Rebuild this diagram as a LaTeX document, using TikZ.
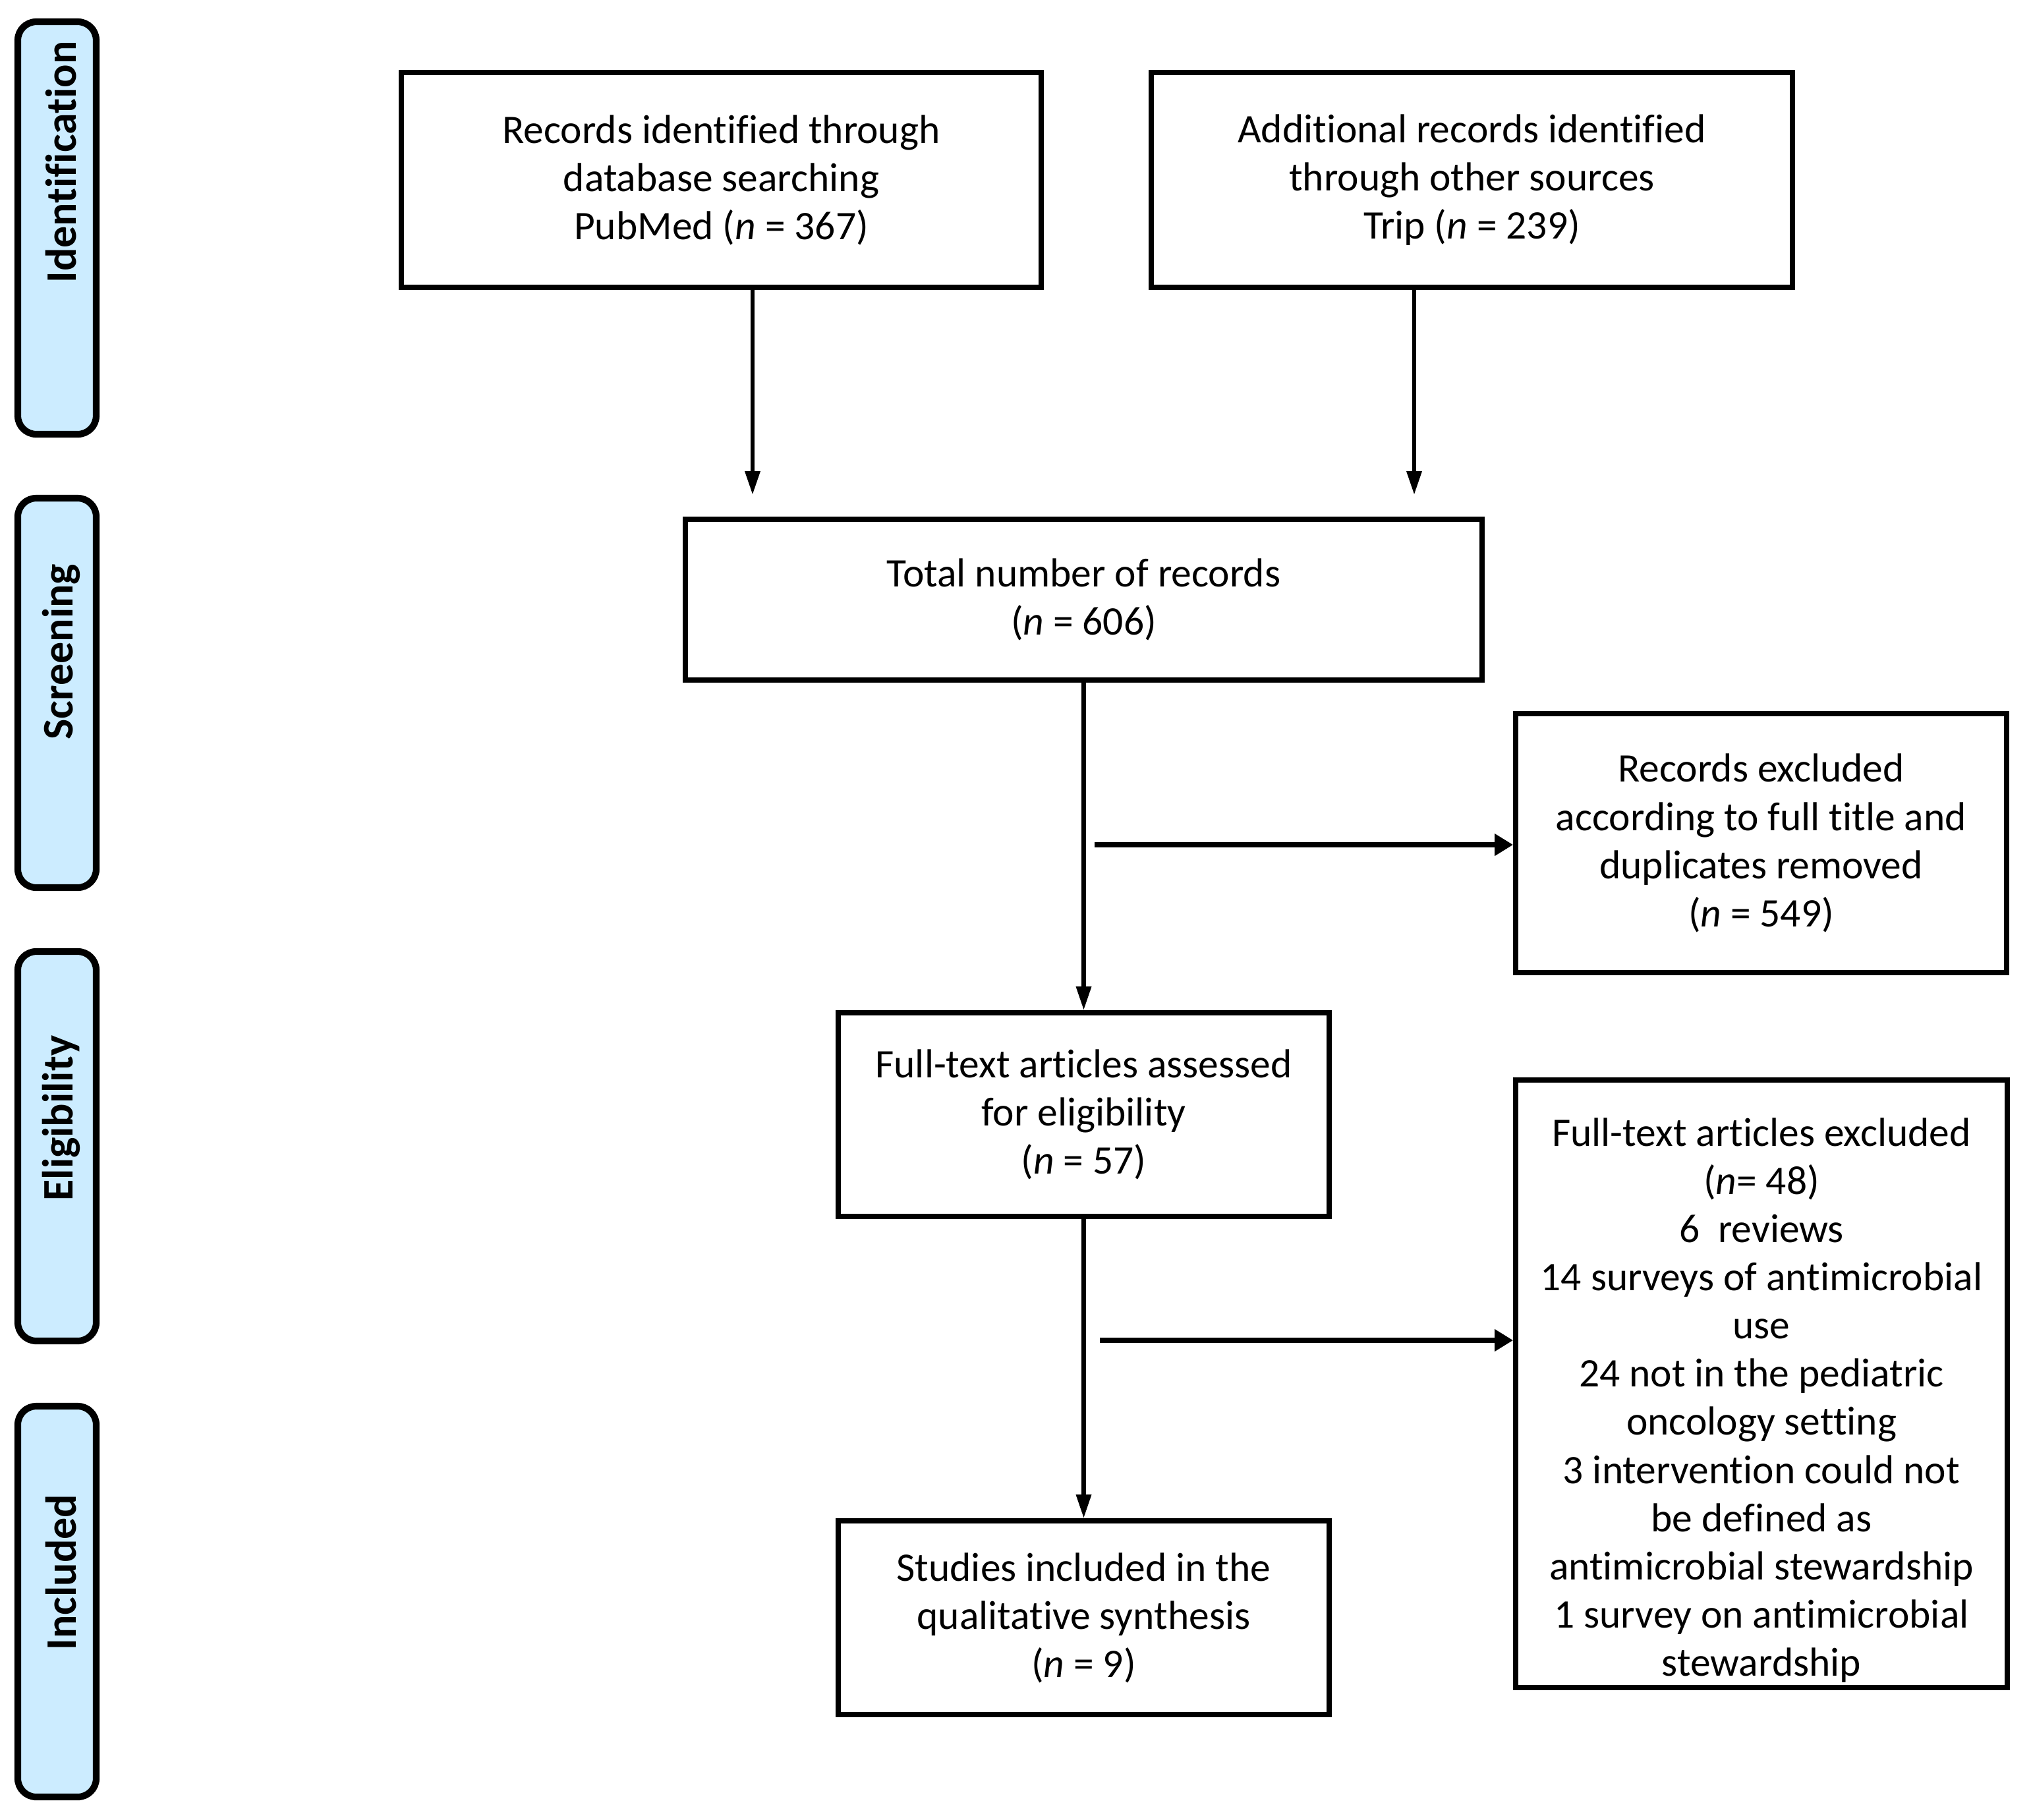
\documentclass[tikz,border=0pt]{standalone}
\usepackage{fontspec}
\setmainfont{Carlito}[Ligatures=NoCommon]
\usetikzlibrary{arrows.meta}
\definecolor{stagebg}{HTML}{CCECFF}

\begin{document}
\begin{tikzpicture}[
  box/.style={draw=black, line width=2.2pt, fill=white, align=center, inner sep=0pt, font=\fontsize{17.5}{20.8}\selectfont},
  boxtxt/.style={align=center, inner sep=0pt, font=\fontsize{17.5}{20.8}\selectfont},
  stagebar/.style={draw=black, line width=2.9pt, fill=stagebg, rounded corners=8pt, minimum width=1.19cm},
  stagelbl/.style={rotate=90, font=\fontsize{18.8}{22}\selectfont\bfseries, inner sep=0pt},
  arr/.style={-{Triangle[length=0.36cm, width=0.22cm]}, line width=1.8pt},
  harr/.style={-{Triangle[length=0.28cm, width=0.32cm]}, line width=2.4pt},
]
\useasboundingbox (0,0) rectangle (30.82,-27.61);

% ── Stage bars ──
\node[stagebar, minimum height=6.26cm] (idbar) at (0.865, -3.46) {};
\node[stagebar, minimum height=5.91cm] (scrbar) at (0.865, -10.515) {};
\node[stagebar, minimum height=5.91cm] (eligbar) at (0.865, -17.395) {};
\node[stagebar, minimum height=5.93cm] (inclbar) at (0.865, -24.305) {};

\node[stagelbl] (idlbl) at (0.93, -2.46) {Identification};
\node[stagelbl] (scrlbl) at (0.93, -9.89) {Screening};
\node[stagelbl] (eliglbl) at (0.93, -16.97) {Eligibility};
\node[stagelbl] (incllbl) at (0.93, -23.86) {Included};

% ── Top row ──
\node[box, minimum width=9.71cm, minimum height=3.26cm] (pub) at (10.945, -2.73)
  {Records identified through\\database searching\\PubMed (\textit{n} = 367)};

\node[box, minimum width=9.73cm, minimum height=3.26cm] (trip) at (22.335, -2.73)
  {Additional records identified\\through other sources\\Trip (\textit{n} = 239)};

% ── Main column ──
\node[box, minimum width=12.09cm, minimum height=2.44cm] (total) at (16.445, -9.10)
  {Total number of records\\(\textit{n} = 606)};

\node[box, minimum width=7.45cm, minimum height=3.09cm] (assessed) at (16.445, -16.915)
  {Full-text articles assessed\\for eligibility\\(\textit{n} = 57)};

\node[box, minimum width=7.45cm, minimum height=2.94cm] (studies) at (16.445, -24.55)
  {Studies included in the\\qualitative synthesis\\(\textit{n} = 9)};

% ── Exclusion boxes ──
\node[box, minimum width=7.45cm, minimum height=3.93cm] (excl1) at (26.725, -12.795)
  {Records excluded\\according to full title and\\duplicates removed\\(\textit{n} = 549)};

\node[box, minimum width=7.46cm, minimum height=9.22cm] (excl2) at (26.73, -21.0) {};
\node[boxtxt] (excl2txt) at ([yshift=-0.25cm]excl2.center)
  {Full-text articles excluded\\(\textit{n}= 48)\\6~ reviews\\14 surveys of antimicrobial\\use\\24 not in the pediatric\\oncology setting\\3 intervention could not\\be defined as\\antimicrobial stewardship\\1 survey on antimicrobial\\stewardship};

% ── Arrows ──
\coordinate (pubend) at (11.42, -7.51);
\coordinate (tripend) at (21.46, -7.51);
\draw[arr] (pub.south -| pubend) -- (pubend);
\draw[arr] (trip.south -| tripend) -- (tripend);

\draw[arr] (total.south) -- (assessed.north);
\draw[arr] (assessed.south) -- (studies.north);

\coordinate (split1) at (16.61, -12.82);
\draw[harr] (split1) -- (split1 -| excl1.west);

\coordinate (split2) at (16.69, -20.34);
\draw[harr] (split2) -- (split2 -| excl2.west);

\end{tikzpicture}
\end{document}
